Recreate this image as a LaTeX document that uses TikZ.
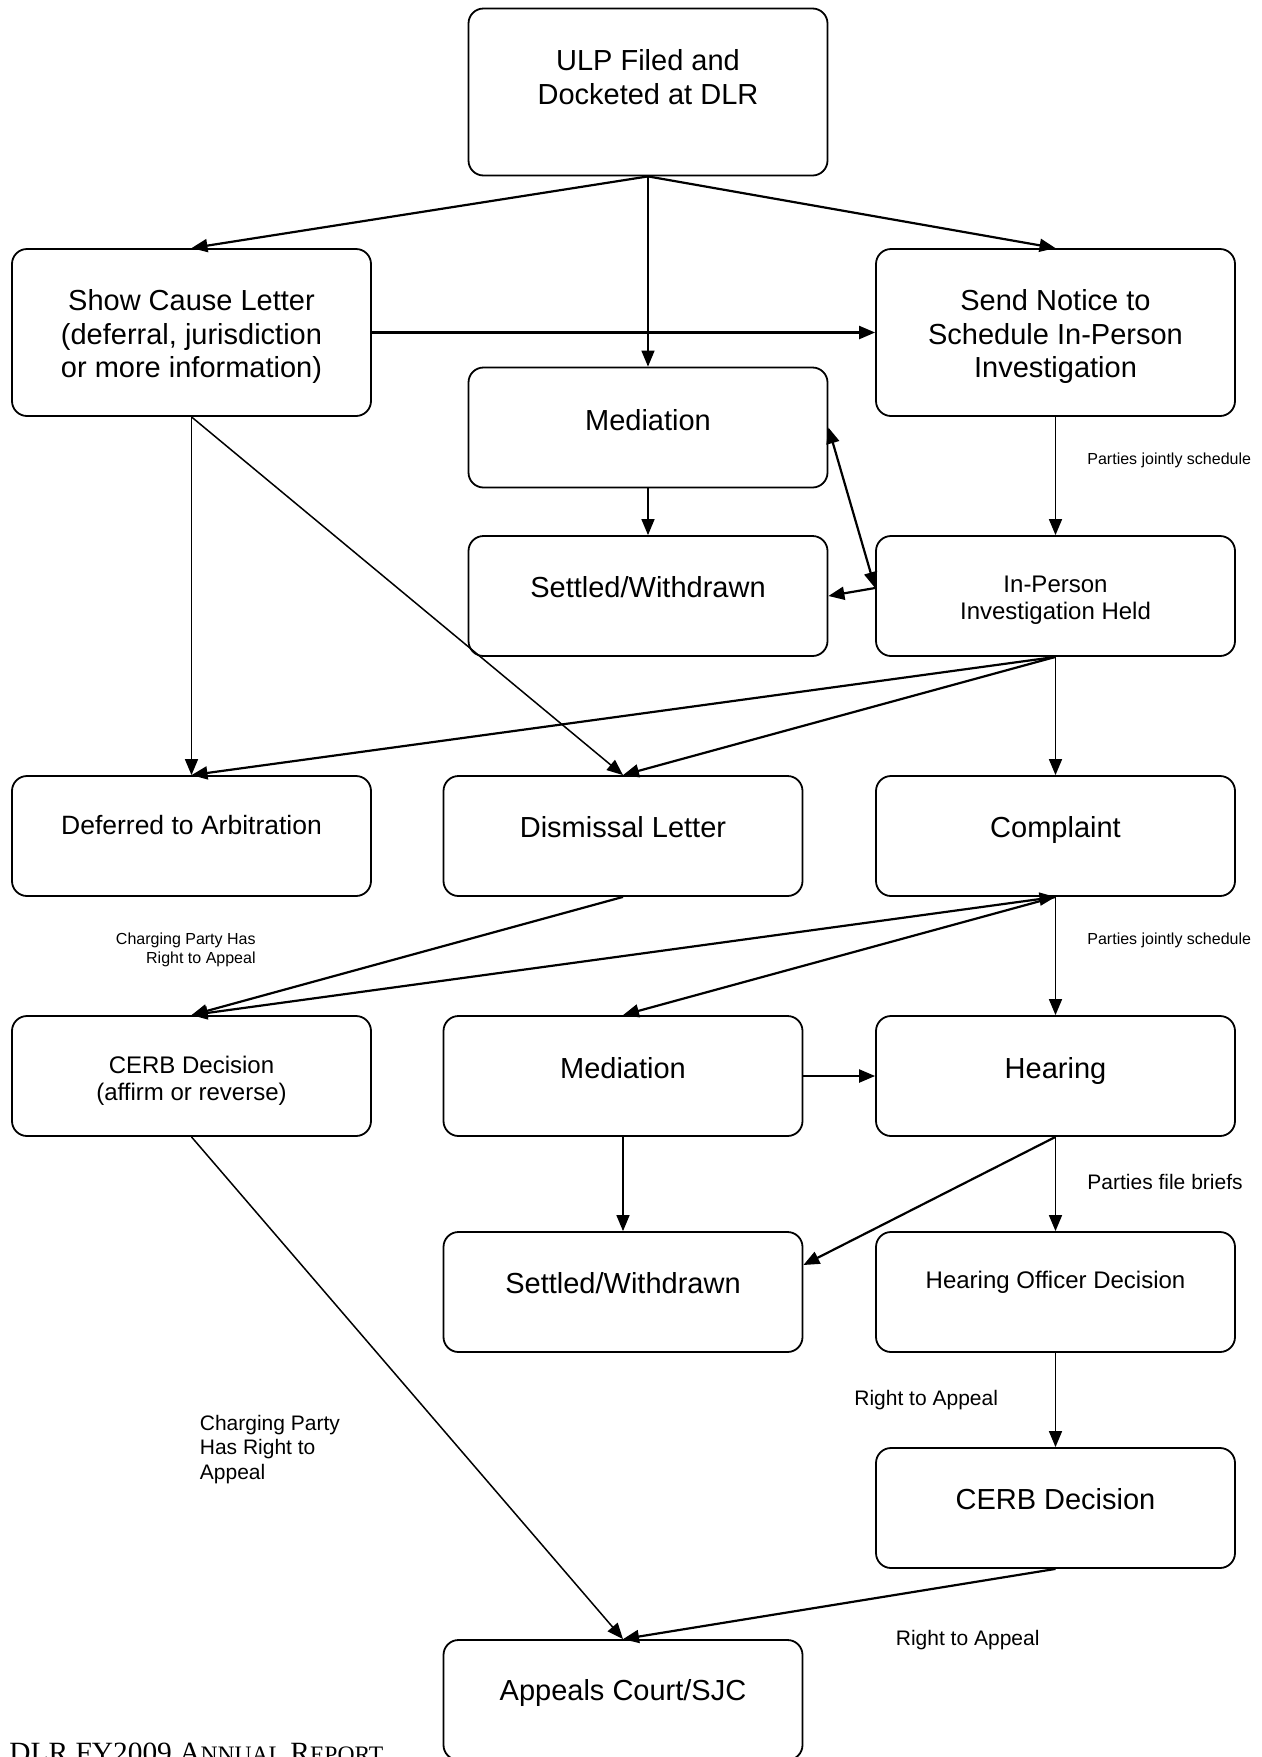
\documentclass[tikz,border=0pt]{standalone}
\usepackage{fontspec}
\setmainfont{Liberation Sans}
\newfontfamily\footserif{Liberation Serif}
\usepackage{tikz}
\usetikzlibrary{calc,arrows.meta}
\tikzset{
  box/.style={draw=black, line width=0.9pt, rounded corners=7.5pt, minimum width=179.5pt, minimum height=60pt, inner sep=0pt},
  tall/.style={box, minimum height=83.5pt},
  thk/.style={draw=black, line width=1.1pt, ->},
  thn/.style={draw=black, line width=0.75pt, ->},
  big/.style={align=center, inner sep=0pt, text depth=0pt, font=\fontsize{14.5}{16.75}\selectfont},
  defl/.style={big, font=\fontsize{13.25}{15}\selectfont},
  mid/.style={align=center, inner sep=0pt, text depth=0pt, font=\fontsize{12}{13.5}\selectfont},
  lab/.style={align=left, inner sep=0pt, text depth=0pt, anchor=west, font=\fontsize{10.5}{12.25}\selectfont},
  tiny/.style={inner sep=0pt, text depth=0pt, anchor=west, font=\fontsize{8}{9.35}\selectfont},
}

\begin{document}
\begin{tikzpicture}[x=0.5pt, y=-0.5pt, >={Triangle[length=8pt,width=6.5pt]}]
  \path[fill=white, use as bounding box] (0,0) rectangle (1262,1757);

  \node[tall] (ulp)   at (648,92)     {};
  \node[tall] (show)  at (191.5,332.5) {};
  \node[tall] (send)  at (1055.5,332.5) {};
  \node[box]  (med1)  at (648,427.5)   {};
  \node[box]  (set1)  at (648,596)     {};
  \node[box]  (inper) at (1055.5,596)  {};
  \node[box]  (defer) at (191.5,836)   {};
  \node[box]  (dism)  at (623,836)     {};
  \node[box]  (compl) at (1055.5,836)  {};
  \node[box]  (cerb1) at (191.5,1076)  {};
  \node[box]  (med2)  at (623,1076)    {};
  \node[box]  (hear)  at (1055.5,1076) {};
  \node[box]  (set2)  at (623,1292)    {};
  \node[box]  (hod)   at (1055.5,1292) {};
  \node[box]  (cerb2) at (1055.5,1508) {};
  \node[box]  (app)   at (623,1700)    {};

  \node[big] (ulpT)   at (648,77)       {ULP Filed and\\Docketed at DLR};
  \node[big] (showT)  at (191.5,333.5)  {Show Cause Letter\\(deferral, jurisdiction\\or more information)};
  \node[big] (sendT)  at (1055.5,333.5) {Send Notice to\\Schedule In-Person\\Investigation};
  \node[big] (med1T)  at (648,419.5)    {Mediation};
  \node[big] (set1T)  at (648,586.5)    {Settled/Withdrawn};
  \node[mid] (inperT) at (1055.5,597.5) {In-Person\\Investigation Held};
  \node[defl] (deferT) at (191.5,825)   {Deferred to Arbitration};
  \node[big] (dismT)  at (623,826.5)    {Dismissal Letter};
  \node[big] (complT) at (1055.5,826.5) {Complaint};
  \node[mid] (cerb1T) at (191.5,1078)   {CERB Decision\\(affirm or reverse)};
  \node[big] (med2T)  at (623,1067.5)   {Mediation};
  \node[big] (hearT)  at (1055.5,1067.5) {Hearing};
  \node[big] (set2T)  at (623,1283)     {Settled/Withdrawn};
  \node[mid] (hodT)   at (1055.5,1280)  {Hearing Officer Decision};
  \node[big] (cerb2T) at (1055.5,1499)  {CERB Decision};
  \node[big] (appT)   at (623,1690)     {Appeals Court/SJC};

  \node[tiny] (sched1) at (1087,459) {Parties jointly schedule};
  \node[tiny] (sched2) at (1087,939) {Parties jointly schedule};
  \node[tiny, anchor=east, align=right] (chg1) at (256,948.5) {Charging Party Has\\Right to Appeal};
  \node[lab] (briefs)  at (1087,1182) {Parties file briefs};
  \node[lab] (appeal1) at (854,1398)  {Right to Appeal};
  \node[lab] (appeal2) at (895.5,1638) {Right to Appeal};
  \node[lab] (chg2)    at (199.5,1447) {Charging Party\\Has Right to\\Appeal};
  \node[anchor=base west, inner sep=0pt] (foot) at (9,1762.5)
    {\footserif\fontsize{14.7}{16}\selectfont DLR FY2009 A{\fontsize{11.8}{12}\selectfont NNUAL} R{\fontsize{11.8}{12}\selectfont EPORT}};

  \draw[thk] (ulp.south) -- (show.north);
  \draw[thn] (ulp.south) -- (med1.north);
  \draw[thk] (ulp.south) -- (send.north);
  \draw[thk] (show.east) -- (send.west);
  \draw[thn] (show.south) -- (defer.north);
  \draw[thn] (show.south) -- (dism.north);
  \draw[thn] (med1.south) -- (set1.north);
  \draw[thn] (send.south) -- (inper.north);
  \draw[thk, <->] (med1.east) -- ([yshift=4pt]inper.west);
  \draw[thk] ([yshift=4pt]inper.west) -- (set1.east);
  \draw[thk] (inper.south) -- (defer.north);
  \draw[thk] (inper.south) -- (dism.north);
  \draw[thn] (inper.south) -- (compl.north);
  \draw[thk] (dism.south) -- (cerb1.north);
  \draw[thk, <->] (compl.south) -- (cerb1.north);
  \draw[thk] (compl.south) -- (med2.north);
  \draw[thn] (compl.south) -- (hear.north);
  \draw[thk] (med2.east) -- (hear.west);
  \draw[thn] (med2.south) -- (set2.north);
  \draw[thk] (hear.south) -- ([yshift=13.5pt]set2.east);
  \draw[thn] (hear.south) -- (hod.north);
  \draw[thn] (hod.south) -- (cerb2.north);
  \draw[thk] (cerb2.south) -- (app.north);
  \draw[thn] (cerb1.south) -- (app.north);
\end{tikzpicture}
\end{document}
